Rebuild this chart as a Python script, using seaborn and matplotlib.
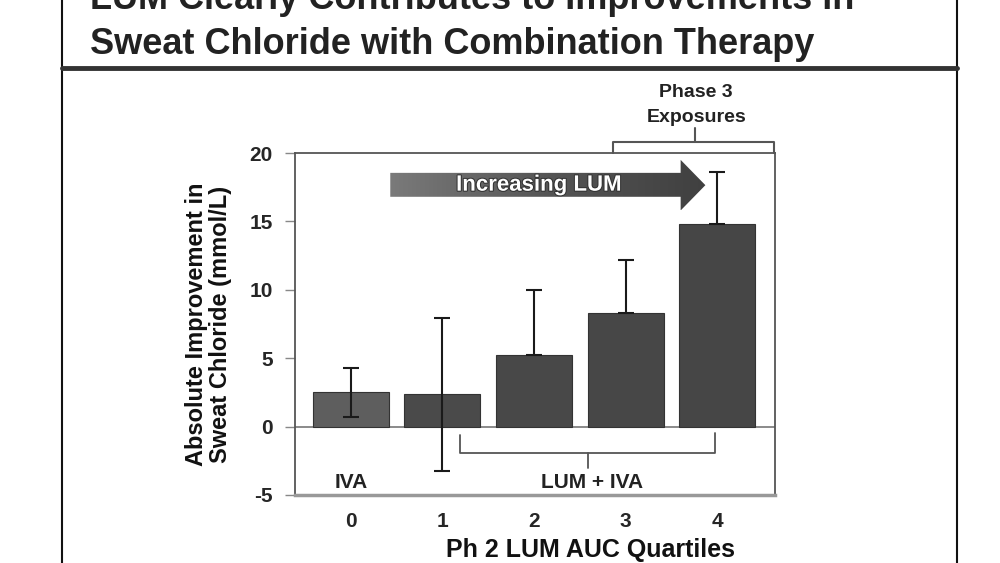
import numpy as np
import matplotlib
matplotlib.use("Agg")
import matplotlib.pyplot as plt
from matplotlib.patches import Polygon
from matplotlib.colors import LinearSegmentedColormap
from matplotlib.lines import Line2D
import matplotlib.patheffects as pe
import seaborn as sns

# ---- data ----
quartiles = ["0", "1", "2", "3", "4"]
improvement = [2.5, 2.35, 5.2, 8.3, 14.8]
err_lower = [1.8, 5.6, 0.0, 0.0, 0.0]
err_upper = [1.8, 5.6, 4.8, 3.9, 3.8]
bar_colors = ["#5e5e5e", "#4a4a4a", "#484848", "#474747", "#464646"]
yticks = [-5, 0, 5, 10, 15, 20]

title_lines = ["LUM Clearly Contributes to Improvements in",
               "Sweat Chloride with Combination Therapy"]
ylabel = "Absolute Improvement in\nSweat Chloride (mmol/L)"
xlabel = "Ph 2 LUM AUC Quartiles"

sns.set_theme(style="white")
plt.rcParams["font.family"] = ["Liberation Sans", "DejaVu Sans"]
plt.rcParams["font.weight"] = "bold"

fig = plt.figure(figsize=(10, 5.63), dpi=100)
ax = fig.add_axes([0.295, 0.1208, 0.48, 0.6074])

sns.barplot(x=quartiles, y=improvement, hue=quartiles, palette=bar_colors,
            legend=False, width=0.83, edgecolor="#333333", linewidth=0.8,
            saturation=1, ax=ax, zorder=2)
ax.errorbar(x=np.arange(len(quartiles)), y=improvement,
            yerr=[err_lower, err_upper], fmt="none", ecolor="#1a1a1a",
            elinewidth=1.5, capsize=5.5, capthick=1.5, zorder=3)

ax.axhline(0, color="#777777", lw=1.2, zorder=1)
ax.set_xlim(-0.61, 4.63)
ax.set_ylim(-5, 20)
ax.set_yticks(yticks)
ax.set_yticklabels([str(t) for t in yticks], fontsize=15, fontweight="bold")
ax.set_xticks(range(len(quartiles)))
ax.set_xticklabels(quartiles, fontsize=15, fontweight="bold")
ax.tick_params(axis="y", direction="out", length=7, width=1, color="#888888",
               pad=9, left=True)
ax.tick_params(axis="x", length=0, pad=12)
ax.set_xlabel(xlabel, fontsize=18, fontweight="bold", color="#111111")
ax.xaxis.set_label_coords(0.615, -0.127)
ax.set_ylabel(ylabel, fontsize=17, fontweight="bold", linespacing=1.05,
              color="#111111")
ax.yaxis.set_label_coords(-0.132, 0.5)

for side in ["left", "top", "right"]:
    ax.spines[side].set_visible(True)
    ax.spines[side].set_color("#555555")
    ax.spines[side].set_linewidth(1.3)
ax.spines["bottom"].set_color("#999999")
ax.spines["bottom"].set_linewidth(2.5)

# ---- gradient arrow "Increasing LUM" ----
x0, xb, xt = 0.43, 3.6, 3.87
yb0, yb1, yh0, yh1, yc = 16.8, 18.55, 15.8, 19.5, 17.65
arrow = Polygon([(x0, yb0), (xb, yb0), (xb, yh0), (xt, yc), (xb, yh1),
                 (xb, yb1), (x0, yb1)], closed=True, facecolor="none",
                edgecolor="none", zorder=4)
ax.add_patch(arrow)
cmap = LinearSegmentedColormap.from_list("g", ["#7a7a7a", "#555555", "#404040"])
grad = np.linspace(0, 1, 256).reshape(1, -1)
im = ax.imshow(grad, cmap=cmap, extent=(x0, xt, yh0, yh1), aspect="auto",
               zorder=4, interpolation="bilinear")
im.set_clip_path(arrow)
ax.text(2.05, yc, "Increasing LUM", color="white", fontsize=16,
        fontweight="bold", ha="center", va="center", zorder=5,
        path_effects=[pe.withStroke(linewidth=1.5, foreground="#333333")])

# ---- brackets ----
bc = "#555555"
ax.plot([1.19, 1.19, 3.98, 3.98], [-0.58, -1.9, -1.9, -0.5], color=bc, lw=1.3,
        zorder=1)
ax.plot([2.59, 2.59], [-1.9, -3.0], color=bc, lw=1.3, zorder=1)
ax.plot([2.86, 2.86, 4.62, 4.62], [20.0, 20.8, 20.8, 20.0], color=bc, lw=1.5,
        clip_on=False)
ax.plot([3.76, 3.76], [20.8, 21.8], color=bc, lw=1.5, clip_on=False)

ax.text(3.77, 24.45, "Phase 3", fontsize=14, fontweight="bold", ha="center",
        va="center", color="#222222", clip_on=False)
ax.text(3.77, 22.6, "Exposures", fontsize=14, fontweight="bold", ha="center",
        va="center", color="#222222", clip_on=False)
ax.text(0.0, -4.1, "IVA", fontsize=15, fontweight="bold", ha="center",
        va="center", color="#222222")
ax.text(2.63, -4.1, "LUM + IVA", fontsize=15, fontweight="bold", ha="center",
        va="center", color="#222222")

# ---- slide frame and title ----
fig.add_artist(Line2D([0.062, 0.062], [0, 1], color="#111111", lw=1.5))
fig.add_artist(Line2D([0.957, 0.957], [0, 1], color="#111111", lw=1.5))
fig.add_artist(Line2D([0.062, 0.957], [0.879, 0.879], color="#333333", lw=3.5))
fig.text(0.09, 1 - 9 / 563, title_lines[0], fontsize=26, fontweight="bold",
         ha="left", va="baseline", color="#222222")
fig.text(0.09, 1 - 54 / 563, title_lines[1], fontsize=26, fontweight="bold",
         ha="left", va="baseline", color="#222222")

fig.savefig("out.png", dpi=100, facecolor="white")
